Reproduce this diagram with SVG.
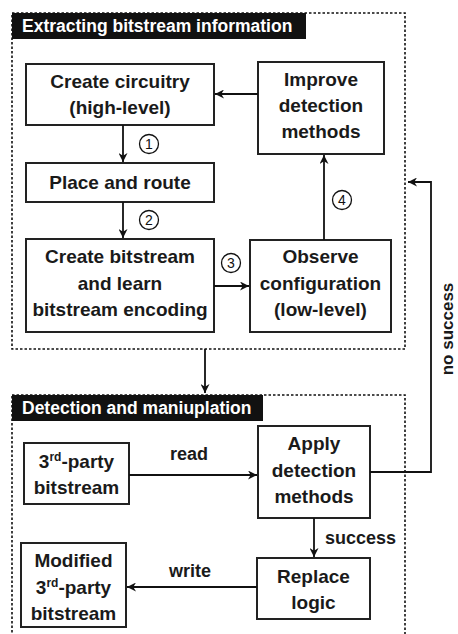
<svg xmlns="http://www.w3.org/2000/svg" width="458" height="634" viewBox="0 0 458 634">
<defs>
<marker id="ah" viewBox="0 0 10 10" refX="10" refY="5" markerWidth="9" markerHeight="9" markerUnits="userSpaceOnUse" orient="auto">
<path d="M0,0 L10,5 L0,10 L3,5 Z" fill="#111"/>
</marker>
</defs>
<style>
.frame{fill:none;stroke:#111;stroke-width:1.6;stroke-dasharray:2.5,2}
.bar{fill:#111}
.bart{font-family:"Liberation Sans",Arial,sans-serif;font-weight:bold;font-size:17.5px;fill:#fff}
.box{fill:#fff;stroke:#222;stroke-width:2}
.t{font-family:"Liberation Sans",Arial,sans-serif;font-weight:bold;font-size:19px;fill:#1a1a1a;text-anchor:middle}
.lbl{font-family:"Liberation Sans",Arial,sans-serif;font-weight:bold;font-size:18px;fill:#1a1a1a}
.c{fill:#fff;stroke:#111;stroke-width:1.3}
.ct{font-family:"Liberation Sans",Arial,sans-serif;font-size:14px;fill:#111;text-anchor:middle}
.ln{fill:none;stroke:#111;stroke-width:1.8}
.sup{font-size:12px}
</style>

<g id="frame-extracting">
<rect class="frame" x="12" y="13" width="393" height="336"/>
<rect class="bar" x="12" y="13" width="294" height="26"/>
<text class="bart" x="22" y="32">Extracting bitstream information</text>
</g>

<g id="frame-detection">
<rect class="frame" x="12" y="395" width="393" height="250"/>
<rect class="bar" x="12" y="395" width="251" height="26"/>
<text class="bart" x="22" y="414">Detection and maniuplation</text>
</g>

<g id="create-circuitry">
<rect class="box" x="26" y="64" width="188" height="61"/>
<text class="t" x="120" y="88">Create circuitry</text>
<text class="t" x="120" y="114">(high-level)</text>
</g>

<g id="place-route">
<rect class="box" x="26" y="163" width="188" height="39"/>
<text class="t" x="120" y="189">Place and route</text>
</g>

<g id="create-bitstream">
<rect class="box" x="26" y="239" width="188" height="93"/>
<text class="t" x="120" y="263">Create bitstream</text>
<text class="t" x="120" y="290">and learn</text>
<text class="t" x="120" y="316">bitstream encoding</text>
</g>

<g id="improve-detection">
<rect class="box" x="258" y="62" width="126" height="92"/>
<text class="t" x="321" y="86">Improve</text>
<text class="t" x="321" y="112">detection</text>
<text class="t" x="321" y="138">methods</text>
</g>

<g id="observe-configuration">
<rect class="box" x="250" y="240" width="141" height="92"/>
<text class="t" x="320.5" y="263">Observe</text>
<text class="t" x="320.5" y="290">configuration</text>
<text class="t" x="320.5" y="316">(low-level)</text>
</g>

<g id="third-party-bitstream">
<rect class="box" x="24" y="443" width="105" height="61"/>
<text class="t" x="76.5" y="468">3<tspan class="sup" dy="-7">rd</tspan><tspan dy="7">-party</tspan></text>
<text class="t" x="76.5" y="494">bitstream</text>
</g>

<g id="apply-detection">
<rect class="box" x="258" y="426" width="112" height="92"/>
<text class="t" x="314" y="450">Apply</text>
<text class="t" x="314" y="477">detection</text>
<text class="t" x="314" y="503">methods</text>
</g>

<g id="replace-logic">
<rect class="box" x="257" y="558" width="113" height="61"/>
<text class="t" x="313.5" y="583">Replace</text>
<text class="t" x="313.5" y="609">logic</text>
</g>

<g id="modified-bitstream">
<rect class="box" x="21" y="543" width="105" height="84"/>
<text class="t" x="73.5" y="567">Modified</text>
<text class="t" x="73.5" y="594">3<tspan class="sup" dy="-7">rd</tspan><tspan dy="7">-party</tspan></text>
<text class="t" x="73.5" y="620">bitstream</text>
</g>

<g id="connectors">
<line class="ln" x1="123" y1="125" x2="123" y2="162" marker-end="url(#ah)"/>
<line class="ln" x1="123" y1="202" x2="123" y2="238" marker-end="url(#ah)"/>
<line class="ln" x1="214" y1="286" x2="249" y2="286" marker-end="url(#ah)"/>
<line class="ln" x1="324" y1="240" x2="324" y2="155" marker-end="url(#ah)"/>
<line class="ln" x1="258" y1="94" x2="215" y2="94" marker-end="url(#ah)"/>
<line class="ln" x1="205" y1="349" x2="205" y2="393" marker-end="url(#ah)"/>
<line class="ln" x1="129" y1="475" x2="257" y2="475" marker-end="url(#ah)"/>
<polyline class="ln" points="370,472 431,472 431,182 408,182" marker-end="url(#ah)"/>
<line class="ln" x1="314" y1="518" x2="314" y2="557" marker-end="url(#ah)"/>
<line class="ln" x1="257" y1="587" x2="127" y2="587" marker-end="url(#ah)"/>
<circle class="c" cx="149" cy="144" r="9.5"/>
<text class="ct" x="149" y="149">1</text>
<circle class="c" cx="149" cy="220" r="9.5"/>
<text class="ct" x="149" y="225">2</text>
<circle class="c" cx="231" cy="263" r="9.5"/>
<text class="ct" x="231" y="268">3</text>
<circle class="c" cx="342" cy="200" r="9.5"/>
<text class="ct" x="342" y="205">4</text>
<text class="lbl" x="189" y="460" text-anchor="middle">read</text>
<text class="lbl" x="190" y="577" text-anchor="middle">write</text>
<text class="lbl" x="325" y="544">success</text>
<text class="lbl" transform="translate(453,329) rotate(-90)" text-anchor="middle" style="font-size:17px">no success</text>
</g>
</svg>
